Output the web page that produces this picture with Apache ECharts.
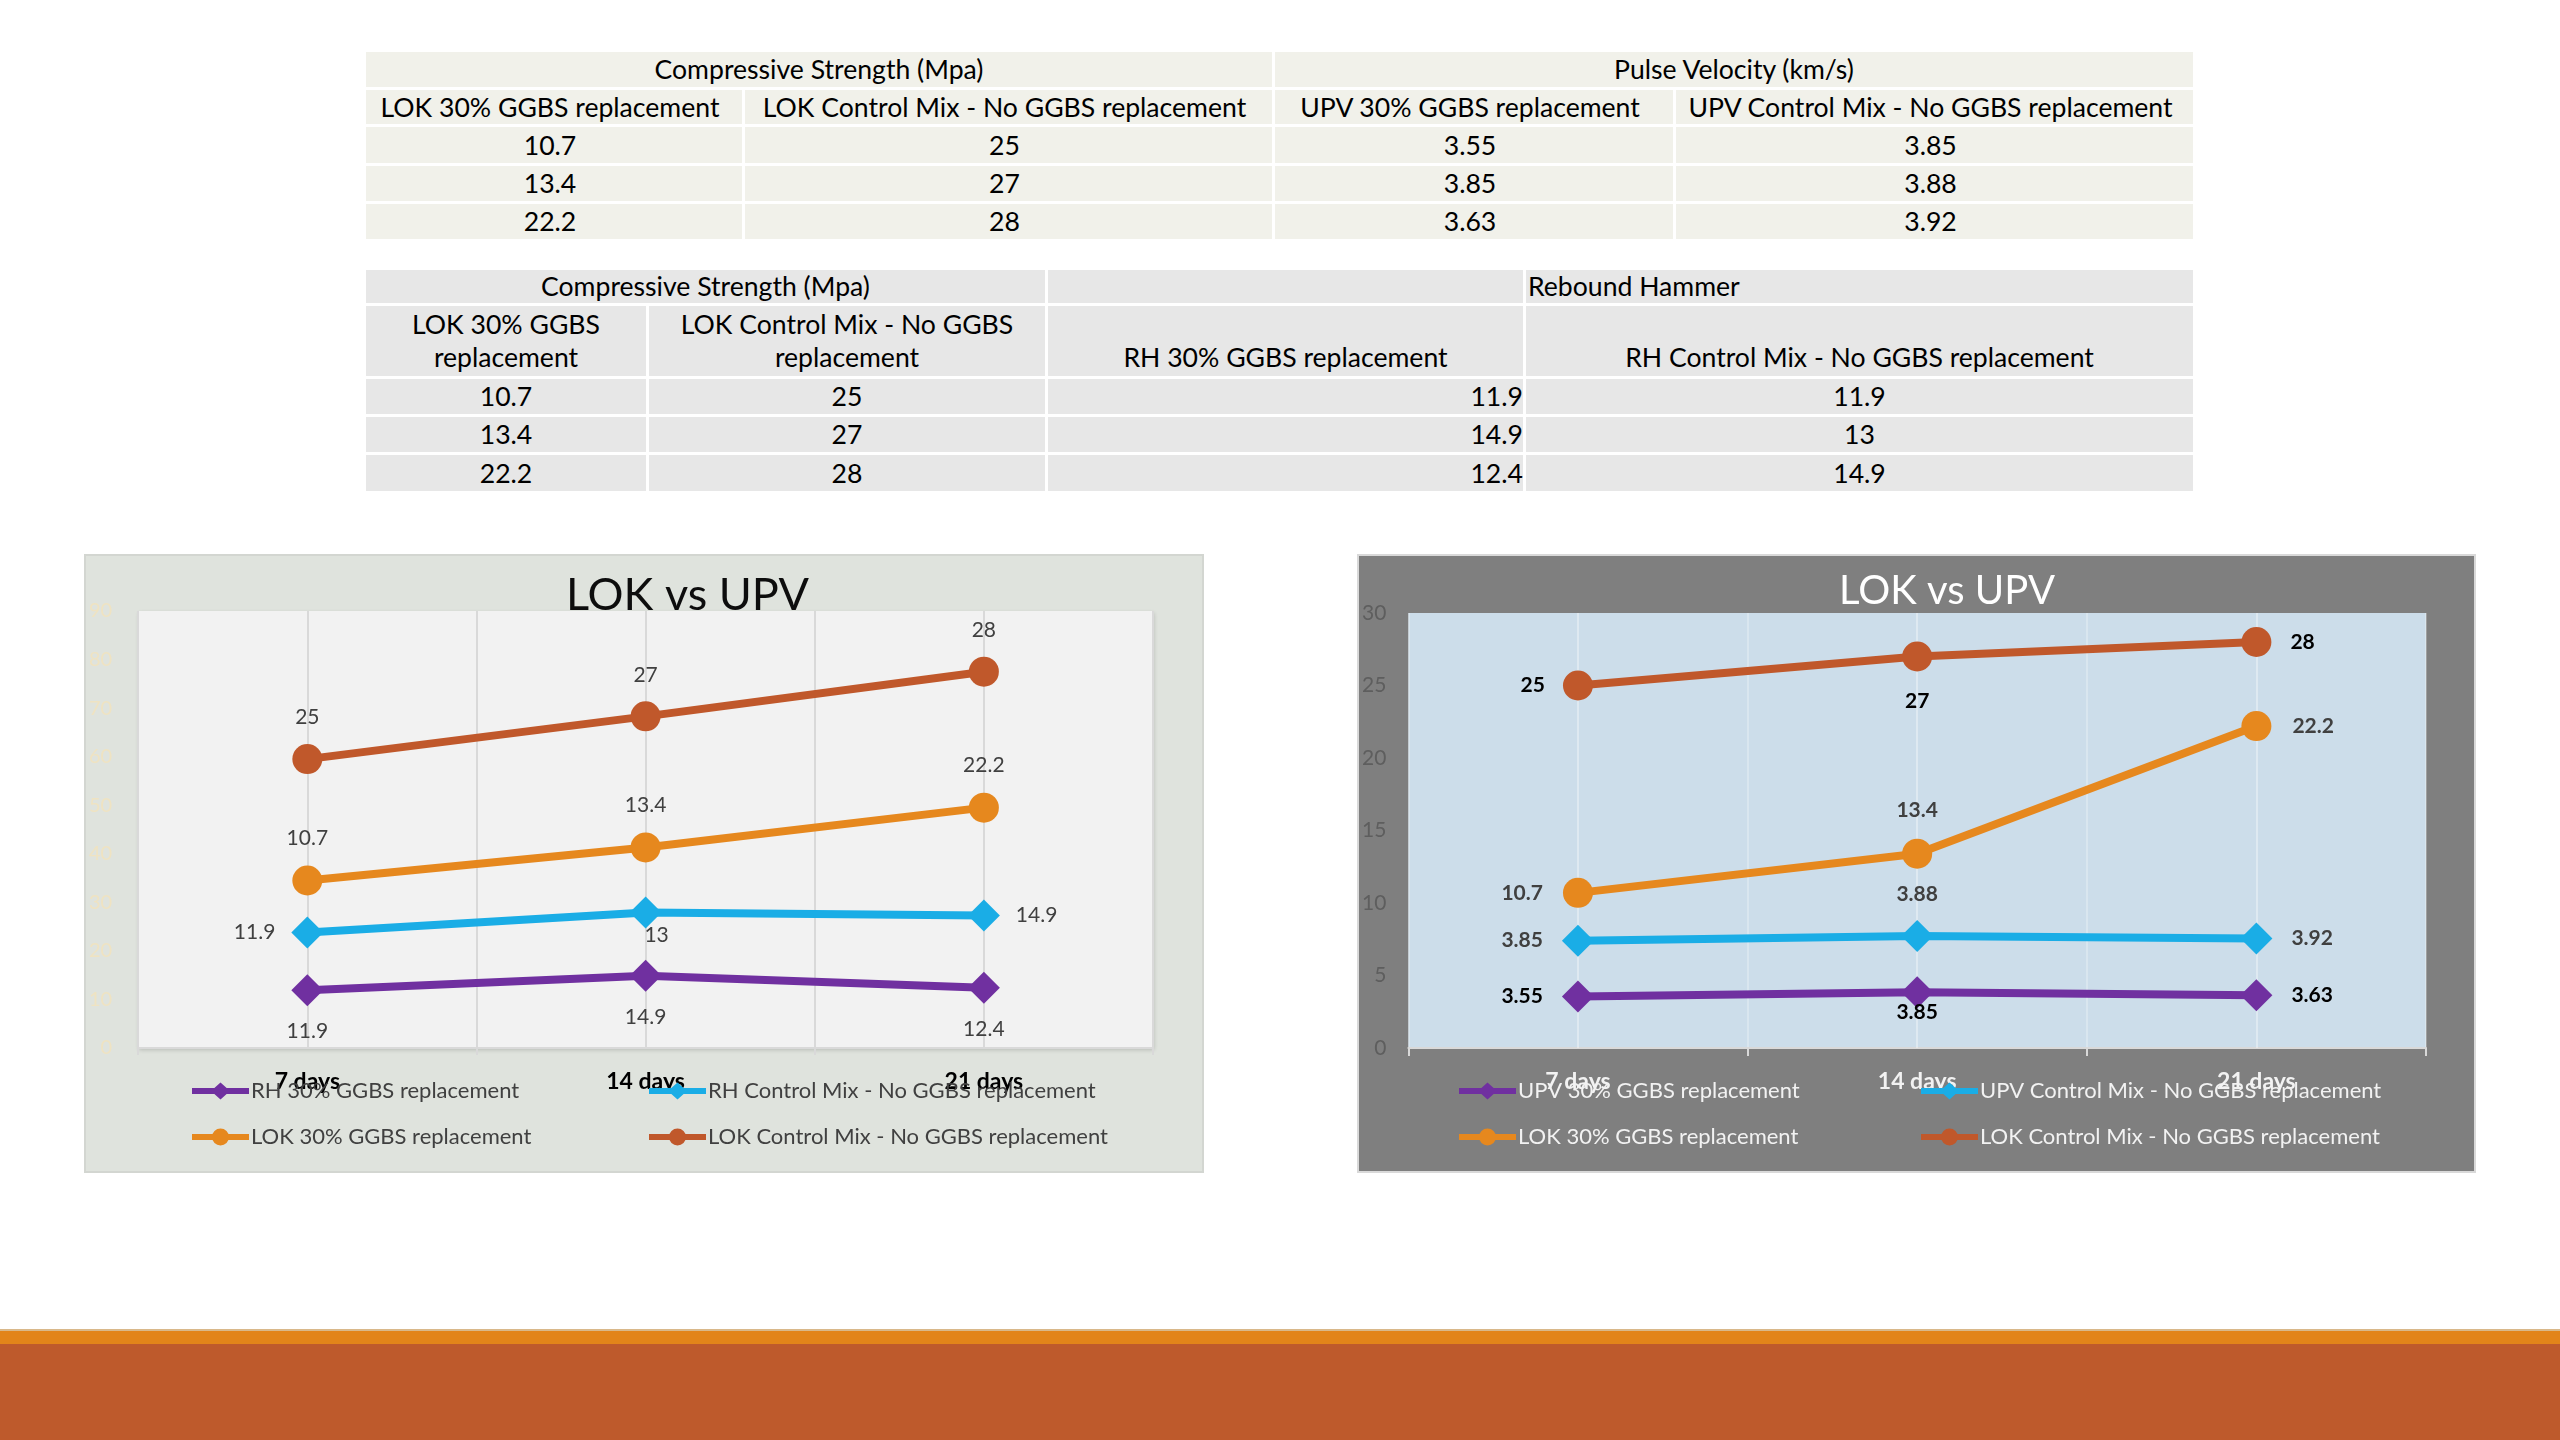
<!DOCTYPE html>
<html>
<head>
<meta charset="utf-8">
<script src="https://cdn.jsdelivr.net/npm/echarts@6/dist/echarts.min.js"></script>
<style>
  html, body { margin:0; padding:0; background:#ffffff; }
  body { width:2560px; height:1440px; position:relative; overflow:hidden; font-family:Lato, 'Open Sans', sans-serif; }
  .cell { position:absolute; box-sizing:border-box; display:flex; align-items:center; justify-content:center; color:#000; font-size:26.6px; font-family:Lato, sans-serif; white-space:nowrap; line-height:33px; text-align:center; }
  .t1 { background:#F1F1EA; }
  .t2 { background:#E7E7E7; }
  #c1 { position:absolute; left:86px; top:556px; width:1116px; height:615px; box-shadow:0 0 0 2px #D3D6D1; }
  #c2 { position:absolute; left:1359px; top:556px; width:1115px; height:615px; box-shadow:0 0 0 2px #D9D9D9; }
  .band1 { position:absolute; left:0; width:2560px; top:1329px; height:2px; background:#D9B88A; }
  .band2 { position:absolute; left:0; width:2560px; top:1331px; height:13px; background:#E2841A; }
  .band3 { position:absolute; left:0; width:2560px; top:1344px; height:96px; background:#BE5A2C; }
</style>
</head>
<body>
<div id="tables"></div>
<div id="c1"></div>
<div id="c2"></div>
<div class="band1"></div><div class="band2"></div><div class="band3"></div>
<script>
// ---------- data ----------
const days = ['7 days', '14 days', '21 days'];
const lok30 = [10.7, 13.4, 22.2];
const lokCtrl = [25, 27, 28];
const upv30 = [3.55, 3.85, 3.63];
const upvCtrl = [3.85, 3.88, 3.92];
const rh30 = [11.9, 14.9, 12.4];
const rhCtrl = [11.9, 13, 14.9];

const nameLok30 = 'LOK 30% GGBS replacement';
const nameLokCtrl = 'LOK Control Mix - No GGBS replacement';
const nameUpv30 = 'UPV 30% GGBS replacement';
const nameUpvCtrl = 'UPV Control Mix - No GGBS replacement';
const nameRh30 = 'RH 30% GGBS replacement';
const nameRhCtrl = 'RH Control Mix - No GGBS replacement';

const groupCS = 'Compressive Strength (Mpa)';
const groupPV = 'Pulse Velocity (km/s)';
const groupRH = 'Rebound Hammer';
const chartTitle = 'LOK vs UPV';

const leftAxis = { min: 0, max: 90, interval: 10 };
const rightAxis = { min: 0, max: 30, interval: 5 };

// ---------- tables (HTML) ----------
const host = document.getElementById('tables');
function cell(cls, x0, x1, y0, y1, html, style) {
  const d = document.createElement('div');
  d.className = 'cell ' + cls;
  d.style.left = x0 + 'px';
  d.style.top = y0 + 'px';
  d.style.width = (x1 - x0 - 3) + 'px';
  d.style.height = (y1 - y0 - 3) + 'px';
  if (style) Object.assign(d.style, style);
  d.innerHTML = html;
  host.appendChild(d);
}
// table 1
const c1 = [366, 745, 1275, 1676, 2196];
const r1 = [52, 90, 127, 166, 204, 242];
cell('t1', c1[0], c1[2], r1[0], r1[1], groupCS);
cell('t1', c1[2], c1[4], r1[0], r1[1], groupPV);
[nameLok30, nameLokCtrl, nameUpv30, nameUpvCtrl].forEach((h, j) => cell('t1', c1[j], c1[j + 1], r1[1], r1[2], h, { paddingRight: '8px' }));
for (let i = 0; i < 3; i++) {
  [lok30, lokCtrl, upv30, upvCtrl].forEach((arr, j) => cell('t1', c1[j], c1[j + 1], r1[i + 2], r1[i + 3], String(arr[i]), { paddingRight: '8px' }));
}
// table 2
const c2 = [366, 649, 1048, 1526, 2196];
const r2 = [270, 306, 379, 417, 455, 494];
cell('t2', c2[0], c2[2], r2[0], r2[1], groupCS);
cell('t2', c2[2], c2[3], r2[0], r2[1], '');
cell('t2', c2[3], c2[4], r2[0], r2[1], groupRH, { justifyContent: 'flex-start', paddingLeft: '2px' });
cell('t2', c2[0], c2[1], r2[1], r2[2], 'LOK 30% GGBS<br>replacement');
cell('t2', c2[1], c2[2], r2[1], r2[2], 'LOK Control Mix - No GGBS<br>replacement');
cell('t2', c2[2], c2[3], r2[1], r2[2], nameRh30, { alignItems: 'flex-end', paddingBottom: '2px' });
cell('t2', c2[3], c2[4], r2[1], r2[2], nameRhCtrl, { alignItems: 'flex-end', paddingBottom: '2px' });
for (let i = 0; i < 3; i++) {
  cell('t2', c2[0], c2[1], r2[i + 2], r2[i + 3], String(lok30[i]));
  cell('t2', c2[1], c2[2], r2[i + 2], r2[i + 3], String(lokCtrl[i]));
  cell('t2', c2[2], c2[3], r2[i + 2], r2[i + 3], String(rh30[i]), { justifyContent: 'flex-end', paddingRight: '0px' });
  cell('t2', c2[3], c2[4], r2[i + 2], r2[i + 3], String(rhCtrl[i]));
}

// ---------- charts ----------
const PURPLE = '#7030A0', BLUE = '#1AADE6', ORANGE = '#E6881E', RUST = '#C0582B';
const FONT = 'Lato';
// legend icons: thick line with marker in the middle (57 x 17 box)
const ICON_DIAMOND = 'path://M0 5.5L57 5.5L57 11.5L0 11.5Z M28.5 0L38 8.5L28.5 17L19 8.5Z';
const ICON_CIRCLE = 'path://M0 5.5L57 5.5L57 11.5L0 11.5Z M20 8.5A8.5 8.5 0 1 1 37 8.5A8.5 8.5 0 1 1 20 8.5Z';

function mkSeries(name, values, color, symbol, size, lab, stack, extra) {
  return Object.assign({
    name: name,
    type: 'line',
    stack: stack,
    symbol: symbol,
    symbolSize: size,
    lineStyle: { color: color, width: 8 },
    itemStyle: { color: color },
    emphasis: { disabled: true },
    data: values.map((v, i) => ({
      value: v,
      label: {
        show: true,
        position: lab.pos[i],
        distance: lab.dist[i],
        offset: lab.off ? lab.off[i] : [0, 0],
        color: lab.color,
        fontSize: lab.size,
        fontWeight: lab.weight,
        fontFamily: FONT
      }
    }))
  }, extra || {});
}

function legends(items, icons, lefts, tops, color) {
  return items.map((n, k) => ({
    data: [{ name: n, icon: icons[k] }],
    left: lefts[k % 2],
    top: tops[Math.floor(k / 2)],
    itemWidth: 57,
    itemHeight: 17,
    symbolKeepAspect: false,
    padding: 0,
    selectedMode: false,
    textStyle: { color: color, fontSize: 22, fontFamily: FONT, padding: [0, 0, 0, -3] }
  }));
}

function vlines(color) {
  return {
    silent: true, symbol: 'none', z: 1,
    label: { show: false },
    lineStyle: { color: color, width: 2, type: 'solid' },
    data: days.map(d => ({ xAxis: d }))
  };
}

const iconsAll = [ICON_DIAMOND, ICON_DIAMOND, ICON_CIRCLE, ICON_CIRCLE];

// Left chart (all four series stacked)
const L = echarts.init(document.getElementById('c1'), null, { renderer: 'canvas' });
const labL = (pos, dist, off) => ({ pos, dist, off, color: '#404040', size: 21, weight: 'normal' });
L.setOption({
  animation: false,
  backgroundColor: '#DFE3DD',
  title: { text: chartTitle, left: 480, top: 17, padding: 0, textStyle: { color: '#0D0D0D', fontSize: 45, fontWeight: 'normal', fontFamily: FONT } },
  grid: { left: 52, top: 55, width: 1015, height: 437, show: true, backgroundColor: '#F2F2F2', borderWidth: 0,
          shadowColor: 'rgba(0,0,0,0.18)', shadowBlur: 4, shadowOffsetX: 1, shadowOffsetY: 2 },
  legend: legends([nameRh30, nameRhCtrl, nameLok30, nameLokCtrl], iconsAll, [106, 563], [524, 570], '#404040'),
  xAxis: {
    type: 'category', data: days, boundaryGap: true,
    axisLine: { show: true, lineStyle: { color: '#D9D9D9', width: 2 } },
    axisTick: { show: true, length: 7, lineStyle: { color: '#D9D9D9', width: 2 } },
    splitLine: { show: true, lineStyle: { color: '#D9D9D9', width: 2 } },
    axisLabel: { color: '#000', fontSize: 23, fontWeight: 'bold', fontFamily: FONT, margin: 22 }
  },
  yAxis: {
    type: 'value', min: leftAxis.min, max: leftAxis.max, interval: leftAxis.interval,
    axisLine: { show: false }, axisTick: { show: false }, splitLine: { show: false },
    axisLabel: { color: '#EFE3C2', fontSize: 20, fontFamily: FONT, margin: 26 }
  },
  series: [
    mkSeries(nameRh30, rh30, PURPLE, 'diamond', 32, labL(['bottom', 'bottom', 'bottom'], [15, 15, 15]), 'total', { markLine: vlines('#D9D9D9') }),
    mkSeries(nameRhCtrl, rhCtrl, BLUE, 'diamond', 32, labL(['left', 'bottom', 'right'], [16, -4, 16], [[0, 0], [11, 0], [0, 0]]), 'total'),
    mkSeries(nameLok30, lok30, ORANGE, 'circle', 30, labL(['top', 'top', 'top'], [17, 17, 17]), 'total'),
    mkSeries(nameLokCtrl, lokCtrl, RUST, 'circle', 30, labL(['top', 'top', 'top'], [16, 16, 16]), 'total')
  ]
});

// Right chart (UPV control stacked on UPV 30%)
const R = echarts.init(document.getElementById('c2'), null, { renderer: 'canvas' });
const labR = (pos, dist, color) => ({ pos, dist, color, size: 21, weight: 'bold' });
R.setOption({
  animation: false,
  backgroundColor: '#7F7F7F',
  title: { text: chartTitle, left: 480, top: 15, padding: 0, textStyle: { color: '#FFFFFF', fontSize: 40, fontWeight: 'normal', fontFamily: FONT } },
  grid: { left: 49, top: 57, width: 1018, height: 435, show: true, backgroundColor: '#CCDDEA', borderWidth: 0 },
  legend: legends([nameUpv30, nameUpvCtrl, nameLok30, nameLokCtrl], iconsAll, [100, 562], [524, 570], '#F2F2F2'),
  xAxis: {
    type: 'category', data: days, boundaryGap: true,
    axisLine: { show: true, lineStyle: { color: '#D9D9D9', width: 2 } },
    axisTick: { show: true, length: 8, lineStyle: { color: '#D9D9D9', width: 2 } },
    splitLine: { show: true, lineStyle: { color: 'rgba(255,255,255,0.35)', width: 1.5 } },
    axisLabel: { color: '#F2F2F2', fontSize: 23, fontWeight: 'bold', fontFamily: FONT, margin: 22 }
  },
  yAxis: {
    type: 'value', min: rightAxis.min, max: rightAxis.max, interval: rightAxis.interval,
    axisLine: { show: false }, axisTick: { show: false }, splitLine: { show: false },
    axisLabel: { color: '#5E5E5E', fontSize: 21, fontFamily: FONT, margin: 22 }
  },
  series: [
    mkSeries(nameUpv30, upv30, PURPLE, 'diamond', 32, labR(['left', 'bottom', 'right'], [19, -6, 19], '#000'), 'upv', { markLine: vlines('rgba(255,255,255,0.35)') }),
    mkSeries(nameUpvCtrl, upvCtrl, BLUE, 'diamond', 32, labR(['left', 'top', 'right'], [19, 15, 19], '#404040'), 'upv'),
    mkSeries(nameLok30, lok30, ORANGE, 'circle', 30, labR(['left', 'top', 'right'], [20, 18, 21], '#404040')),
    mkSeries(nameLokCtrl, lokCtrl, RUST, 'circle', 30, labR(['left', 'bottom', 'right'], [18, 19, 19], '#000'))
  ]
});
</script>
</body>
</html>
